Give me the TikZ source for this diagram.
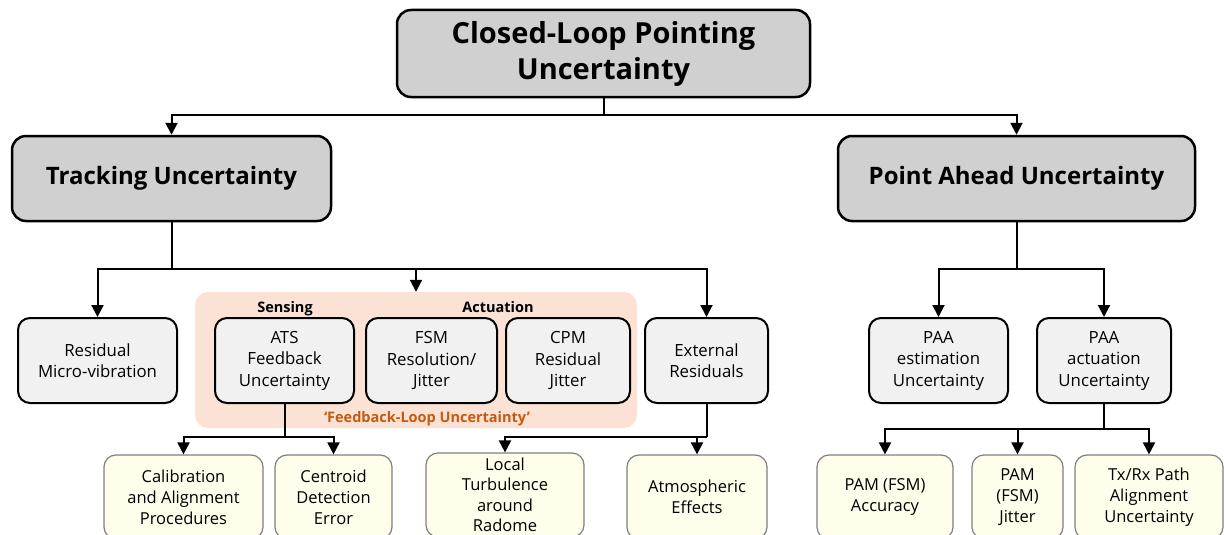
\documentclass[tikz,border=0pt]{standalone}
\usepackage{fontspec}
\setmainfont{Open Sans}
\usetikzlibrary{positioning,calc,arrows.meta}
\definecolor{topgray}{HTML}{D0D0D0}
\definecolor{midgray}{HTML}{F1F1F1}
\definecolor{lowyellow}{HTML}{FEFEEA}
\definecolor{lowline}{HTML}{7F7F7F}
\definecolor{loopfill}{HTML}{FBE2D5}
\definecolor{looptext}{HTML}{C55A11}

\tikzset{
  topbox/.style={draw,line width=2.5pt,rounded corners=14pt,fill=topgray,inner sep=0pt,
    minimum height=85pt,align=center,font=\fontsize{24}{30}\selectfont\bfseries},
  midbox/.style={draw,line width=2pt,rounded corners=12pt,fill=midgray,inner sep=0pt,
    minimum height=85pt,align=center,font=\fontsize{16.8}{21.5}\selectfont},
  lowbox/.style={draw=lowline,line width=1.2pt,rounded corners=12pt,fill=lowyellow,inner sep=0pt,
    minimum height=84pt,align=center,font=\fontsize{16.5}{21}\selectfont},
  tag/.style={anchor=base,font=\fontsize{14.5}{16}\selectfont\bfseries},
  conn/.style={line width=2pt},
  arr/.style={conn,-{Triangle[width=12pt,length=12pt]}},
}

\begin{document}
\begin{tikzpicture}[x=1pt,y=-1pt]
\useasboundingbox (0,0) rectangle (1224,535);
\clip (0,0) rectangle (1224,535);
% top levels
\node[topbox,minimum width=413pt,minimum height=87pt,font=\fontsize{29}{36}\selectfont\bfseries] (root) at (603.5,53.5) {Closed-Loop Pointing\\Uncertainty};
\node[topbox,minimum width=319pt] (track) at (171.5,178.5) {Tracking Uncertainty};
\node[topbox,minimum width=357pt] (pa) at (1016.5,178.5) {Point Ahead Uncertainty};

% feedback loop group
\node[fill=loopfill,rounded corners=13pt,minimum width=442pt,minimum height=136pt,inner sep=0pt] (loop) at (416,360) {};
\node[tag] (sens) at (285,312) {Sensing};
\node[tag] (act) at (498,312) {Actuation};
\node[tag,text=looptext] (looplbl) at (427,422) {‘Feedback-Loop Uncertainty’};

% second level
\node[midbox,minimum width=159pt] (resid) at (97.5,360.5) {Residual\\Micro-vibration};
\node[midbox,minimum width=139pt] (ats) at (284.5,360.5) {ATS\\Feedback\\Uncertainty};
\node[midbox,minimum width=131pt] (fsm) at (431.5,360.5) {FSM\\Resolution/\\Jitter};
\node[midbox,minimum width=124pt] (cpm) at (568,360.5) {CPM\\Residual\\Jitter};
\node[midbox,minimum width=123pt] (ext) at (706.5,360.5) {External\\Residuals};
\node[midbox,minimum width=139pt] (paaest) at (938.5,360.5) {PAA\\estimation\\Uncertainty};
\node[midbox,minimum width=134pt] (paaact) at (1104,360.5) {PAA\\actuation\\Uncertainty};

% third level (cut off by the lower edge)
\node[lowbox,minimum width=159pt] (calib) at (183.5,497) {Calibration\\and Alignment\\Procedures};
\node[lowbox,minimum width=117pt] (centr) at (333.5,497) {Centroid\\Detection\\Error};
\node[lowbox,minimum width=158pt,font=\fontsize{16.5}{20.5}\selectfont] (local) at (505,495) {Local\\Turbulence\\around\\Radome};
\node[lowbox,minimum width=140pt] (atmo) at (697,497) {Atmospheric\\Effects};
\node[lowbox,minimum width=136pt] (pamacc) at (885,497) {PAM (FSM)\\Accuracy};
\node[lowbox,minimum width=91pt] (pamjit) at (1017.5,497) {PAM\\(FSM)\\Jitter};
\node[lowbox,minimum width=148pt] (txrx) at (1149,497) {Tx/Rx Path\\Alignment\\Uncertainty};

% junctions
\coordinate (j0) at (root.south |- 0,115);
\coordinate (j1) at (track.south |- 0,269);
\coordinate (j2) at (ats.south |- 0,437);
\coordinate (j3) at (ext.south |- 0,437);
\coordinate (j4) at (pa.south |- 0,269);
\coordinate (j5) at (paaact.south |- 0,429);

\draw[conn] (root.south) -- (j0);
\draw[arr] (j0) -| (track);
\draw[arr] (j0) -| (pa);

\draw[conn] (track.south) -- (j1);
\draw[arr] (j1) -| (resid);
\draw[arr] (j1) -| (loop);
\draw[arr] (j1) -| (ext);

\draw[conn] (ats.south) -- (j2);
\draw[arr] (j2) -| (calib);
\draw[arr] (j2) -| (centr);

\draw[conn] (ext.south) -- (j3);
\draw[arr] (j3) -| (local);
\draw[arr] (j3) -| (atmo);

\draw[conn] (pa.south) -- (j4);
\draw[arr] (j4) -| (paaest);
\draw[arr] (j4) -| (paaact);

\draw[conn] (paaact.south) -- (j5);
\draw[arr] (j5) -| (pamacc);
\draw[arr] (j5) -| (pamjit);
\draw[arr] (j5) -| (txrx);
\end{tikzpicture}
\end{document}
